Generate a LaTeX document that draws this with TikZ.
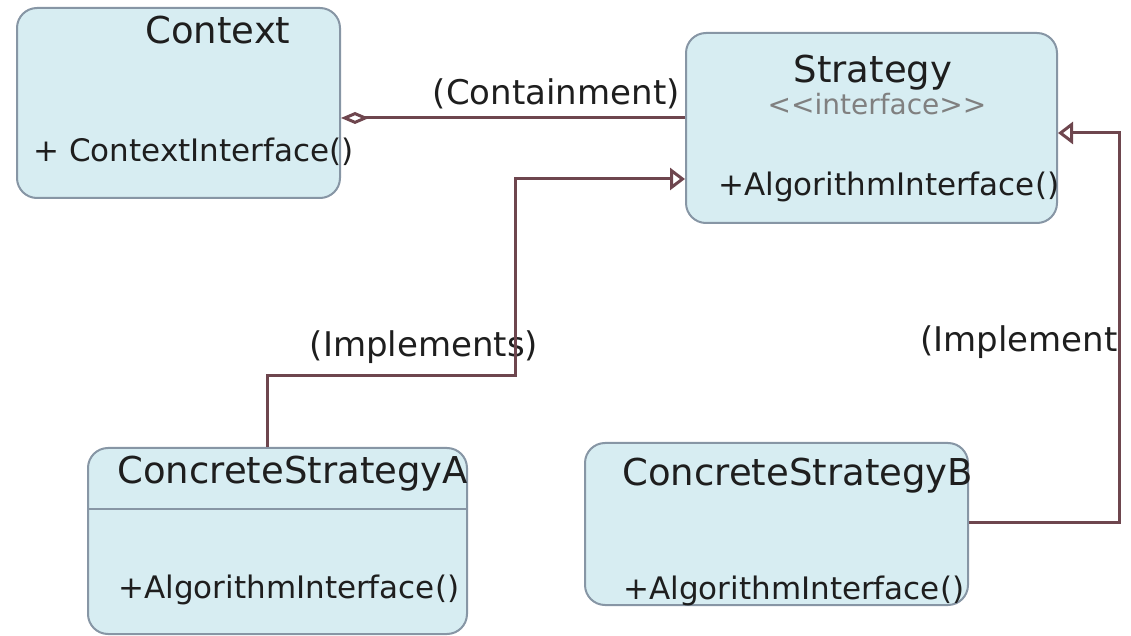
\documentclass[tikz,border=0pt]{standalone}
\usepackage{fontspec}
\setmainfont{DejaVu Sans}
\usetikzlibrary{arrows.meta,calc}
\definecolor{boxfill}{RGB}{215,237,242}
\definecolor{boxedge}{RGB}{135,150,165}
\definecolor{wirecol}{RGB}{110,70,78}
\definecolor{txt}{RGB}{30,30,30}

\begin{document}
\begin{tikzpicture}[x=0.5pt,y=-0.5pt,
  umlbox/.style={draw=boxedge,line width=1pt,fill=boxfill,rounded corners=10pt,inner sep=0pt},
  title/.style={inner sep=0pt,text=txt,font=\fontsize{18.5pt}{22pt}\selectfont},
  method/.style={inner sep=0pt,text=txt,font=\fontsize{15.5pt}{18pt}\selectfont},
  stereo/.style={inner sep=0pt,text=gray,font=\fontsize{14pt}{16pt}\selectfont},
  lbl/.style={inner sep=0pt,text=txt,font=\fontsize{17pt}{20pt}\selectfont},
  wire/.style={draw=wirecol,line width=1.5pt},
  realize/.style={wire,-{Triangle[open,length=7.5pt,width=11pt]}}]
\useasboundingbox (0,0) rectangle (1131,636);

% classes
\node[umlbox,minimum width=161.5pt,minimum height=95pt] (context) at (178.5,103) {};
\node[umlbox,minimum width=185.5pt,minimum height=95pt] (strategy) at (871.5,128) {};
\node[umlbox,minimum width=189.5pt,minimum height=93pt] (csa) at (277.5,541) {};
\node[umlbox,minimum width=191.5pt,minimum height=81pt] (csb) at (776.5,524) {};
\draw[draw=boxedge,line width=1pt] (csa.west |- 0,509) -- (csa.east |- 0,509);

\node[title,anchor=base] (contexttitle) at (218,44) {Context};
\node[method,anchor=base west] (contextop) at (33,162) {+ ContextInterface()};
\node[title,anchor=base] (strategytitle) at (873,83) {Strategy};
\node[stereo,anchor=base] (strategystereo) at (877,115) {<{}<interface>{}>};
\node[method,anchor=base west] (strategyop) at (718,196) {+AlgorithmInterface()};
\node[title,anchor=base west] (csatitle) at (117,483) {ConcreteStrategyA};
\node[method,anchor=base west] (csaop) at (118,598) {+AlgorithmInterface()};
\node[title,anchor=base west] (csbtitle) at (622,486) {ConcreteStrategyB};
\node[method,anchor=base west] (csbop) at (623,599) {+AlgorithmInterface()};

% relations
\node[lbl,anchor=base east] (containment) at (680,105) {(Containment)};
\node[lbl,anchor=base] (implementsA) at (424,357) {(Implements)};
\node[lbl,anchor=base east] (implementsB) at (1118,352) {(Implement};

\coordinate (bendA) at (515,376);
\coordinate (bendB) at (1119,133);

\draw[wire,{Diamond[open,length=14pt,width=6pt]}-] (context.east |- 0,118) -- (strategy.west |- 0,118);
\draw[realize] (csa.north -| 267,0) |- (bendA) |- (strategy.west |- 0,179);
\draw[realize] (csb.east |- 0,522) -| (bendB) -- (strategy.east |- 0,133);
\end{tikzpicture}
\end{document}
